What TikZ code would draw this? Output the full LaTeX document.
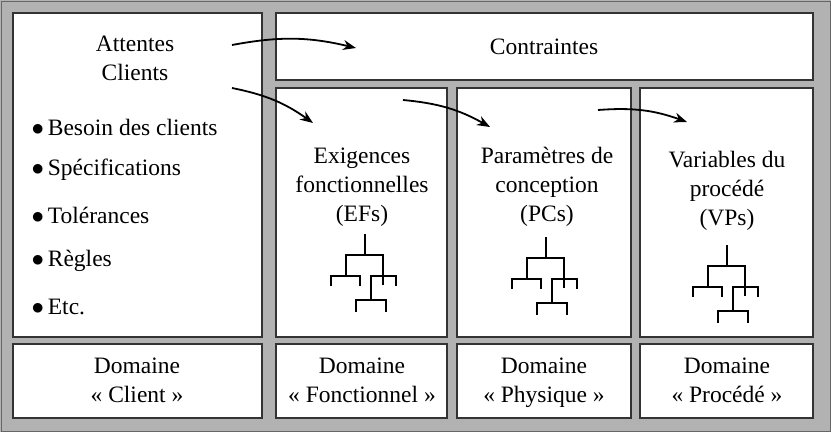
\documentclass[tikz,border=0pt]{standalone}
\usepackage{fontspec}
\setmainfont{Liberation Serif}
\usetikzlibrary{positioning,arrows.meta}
\tikzset{
  boite/.style = {draw=black!80, line width=1.6pt, fill=white, inner sep=0pt},
  txt/.style = {align=center, font=\fontsize{23.5}{29}\selectfont},
  fleche/.style = {-{Stealth[length=13pt,width=10pt]}, line width=1.8pt, bend left=12},
  arbre/.style = {line width=1.1pt}
}
\newcommand{\arbre}[2]{%
  \begin{scope}[shift={(#1,#2)}, arbre]
    \draw (0,0) -- (0,21) (-19,42) -- (-19,21) -- (18,21) -- (18,51);
    \draw (-34,52) -- (-34,42) -- (-5,42) -- (-5,52);
    \draw (6,66) -- (6,42) -- (31,42) -- (31,52);
    \draw (-9,78) -- (-9,66) -- (21,66) -- (21,78);
  \end{scope}}
\begin{document}
\begin{tikzpicture}[x=1pt, y=-1pt]
  \fill[black!30] (0,0) rectangle (831,432);
  \draw[black!60, line width=1pt] (1,1) rectangle (830,431);
  % boites
  \draw[boite] (13,13) rectangle (262,337);
  \draw[boite] (276,13) rectangle (813,80);
  \draw[boite] (276,88) rectangle (447,337);
  \draw[boite] (457,88) rectangle (631,337);
  \draw[boite] (640,88) rectangle (813,337);
  \draw[boite] (13,344) rectangle (262,418);
  \draw[boite] (276,344) rectangle (447,418);
  \draw[boite] (457,344) rectangle (631,418);
  \draw[boite] (640,344) rectangle (813,418);
  % textes
  \node[txt] (attentes) at (135,58) {Attentes\\Clients};
  \node[txt] (contraintes) at (544,47) {Contraintes};
  \node[txt] (efs) at (362,187) {Exigences\\fonctionnelles\\(EFs)};
  \node[txt] (pcs) at (547,187) {Paramètres de\\conception\\(PCs)};
  \node[txt] (vps) at (727,191) {Variables du\\procédé\\(VPs)};
  \foreach \y/\t in {127/Besoin des clients, 170/Spécifications, 215/Tolérances, 261/Règles, 307/Etc.}
    \node[txt, anchor=west] at (28,\y) {$\bullet$\,\t};
  \node[txt] (dclient) at (137,382) {Domaine\strut\\« Client »\strut};
  \node[txt] (dfonc) at (362,382) {Domaine\strut\\« Fonctionnel »\strut};
  \node[txt] (dphys) at (544,382) {Domaine\strut\\« Physique »\strut};
  \node[txt] (dproc) at (727,382) {Domaine\strut\\« Procédé »\strut};
  % arbres
  \arbre{365}{234}
  \arbre{546}{237}
  \arbre{727}{245}
  % fleches
  \coordinate (a1) at (232,45); \coordinate (b1) at (356,48);
  \coordinate (a2) at (232,88); \coordinate (b2) at (313,123);
  \coordinate (a3) at (403,100); \coordinate (b3) at (490,127);
  \coordinate (a4) at (598,110); \coordinate (b4) at (687,122);
  \draw[fleche] (a1) to (b1);
  \draw[fleche] (a2) to (b2);
  \draw[fleche] (a3) to (b3);
  \draw[fleche] (a4) to (b4);
\end{tikzpicture}
\end{document}
